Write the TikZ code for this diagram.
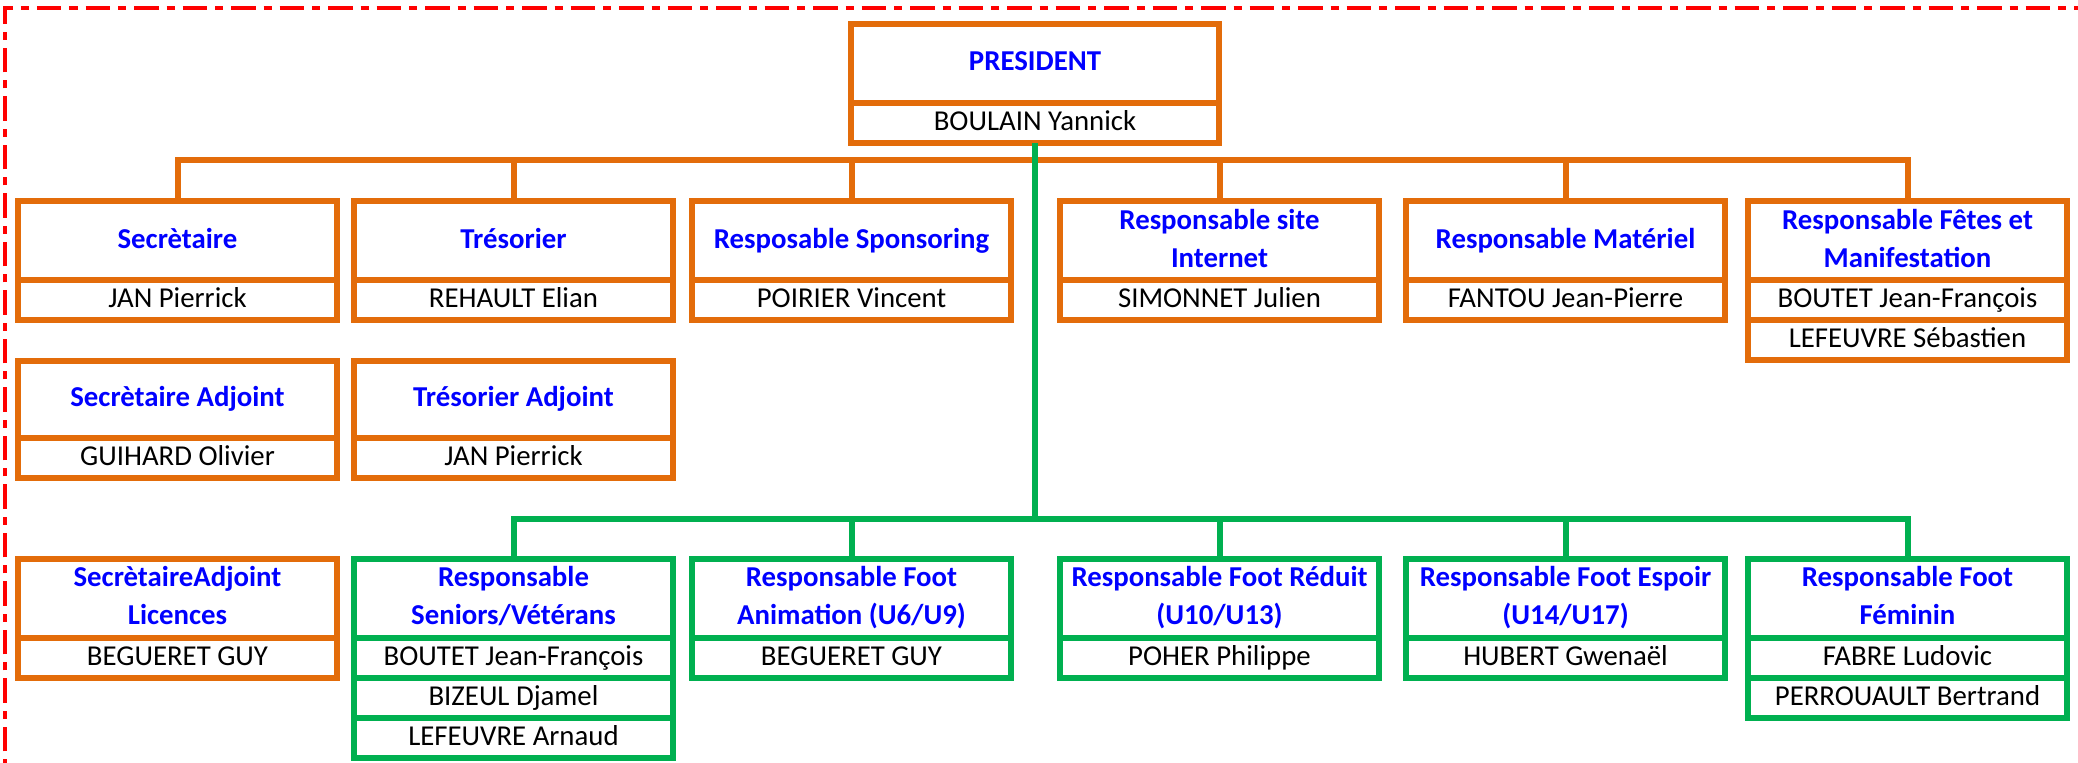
\documentclass[tikz,border=0pt]{standalone}
\usepackage{fontspec}
\setmainfont{Carlito}
\definecolor{orgOrange}{HTML}{E36C0A}
\definecolor{orgGreen}{HTML}{00B050}
\definecolor{titleBlue}{HTML}{0000FF}
\definecolor{borderRed}{HTML}{FF0000}
\newcommand\celltext[1]{\begin{tabular}{@{}c@{}}#1\end{tabular}}
\tikzset{
  cellbox/.style={draw, line width=3pt, minimum width=159.5pt, inner sep=0pt, outer sep=0pt, font=\fontsize{14.4}{19}\selectfont},
  ocell/.style={cellbox, draw=orgOrange},
  gcell/.style={cellbox, draw=orgGreen},
  titlecell/.style={minimum height=39.5pt, text=titleBlue, font=\fontsize{14.4}{19}\selectfont\bfseries},
  namecell/.style={minimum height=20pt, text=black},
  oline/.style={draw=orgOrange, line width=3pt},
  gline/.style={draw=orgGreen, line width=3pt},
}
\begin{document}
\begin{tikzpicture}[x=0.5pt,y=-0.5pt]
\useasboundingbox (0,0) rectangle (2078,763);
\begin{scope}
\clip (0,0) rectangle (2078,763);
\draw[borderRed, line width=2pt, dash pattern=on 12.25pt off 4pt on 4pt off 4pt] (4.5,800) -- (4.5,8) -- (2100,8);
\end{scope}

% President
\node[ocell, titlecell, minimum width=184pt, minimum height=39.35pt] (presT) at (1035,63.35) {\celltext{PRESIDENT}};
\node[ocell, namecell, minimum width=184pt, minimum height=20.15pt] (presN) at (1035,122.85) {\celltext{BOULAIN Yannick}};

% Row 1
\node[ocell, titlecell] (secT) at (177.5,240.5) {\celltext{Secrètaire}};
\node[ocell, namecell] (secN) at (177.5,300) {\celltext{JAN Pierrick}};
\node[ocell, titlecell] (tresT) at (513.5,240.5) {\celltext{Trésorier}};
\node[ocell, namecell] (tresN) at (513.5,300) {\celltext{REHAULT Elian}};
\node[ocell, titlecell] (spoT) at (851.5,240.5) {\celltext{Resposable Sponsoring}};
\node[ocell, namecell] (spoN) at (851.5,300) {\celltext{POIRIER Vincent}};
\node[ocell, titlecell] (webT) at (1219.5,240.5) {\celltext{Responsable site\\Internet}};
\node[ocell, namecell] (webN) at (1219.5,300) {\celltext{SIMONNET Julien}};
\node[ocell, titlecell] (matT) at (1565.5,240.5) {\celltext{Responsable Matériel}};
\node[ocell, namecell] (matN) at (1565.5,300) {\celltext{FANTOU Jean-Pierre}};
\node[ocell, titlecell] (fetT) at (1907.5,240.5) {\celltext{Responsable Fêtes et\\Manifestation}};
\node[ocell, namecell] (fetN) at (1907.5,300) {\celltext{BOUTET Jean-François}};
\node[ocell, namecell] (fetNb) at (1907.5,340) {\celltext{LEFEUVRE Sébastien}};

% Row 2
\node[ocell, titlecell, minimum height=38.35pt] (secaT) at (177.5,399.35) {\celltext{Secrètaire Adjoint}};
\node[ocell, namecell] (secaN) at (177.5,457.7) {\celltext{GUIHARD Olivier}};
\node[ocell, titlecell, minimum height=38.35pt] (tresaT) at (513.5,399.35) {\celltext{Trésorier Adjoint}};
\node[ocell, namecell] (tresaN) at (513.5,457.7) {\celltext{JAN Pierrick}};

% Row 3
\node[ocell, titlecell, minimum height=39.35pt] (licT) at (177.5,598.35) {\celltext{SecrètaireAdjoint\\Licences}};
\node[ocell, namecell] (licN) at (177.5,657.7) {\celltext{BEGUERET GUY}};
\node[gcell, titlecell, minimum height=39.35pt] (senT) at (513.5,598.35) {\celltext{Responsable\\Seniors/Vétérans}};
\node[gcell, namecell] (senN) at (513.5,657.7) {\celltext{BOUTET Jean-François}};
\node[gcell, namecell, minimum height=20.15pt] (senNb) at (513.5,697.85) {\celltext{BIZEUL Djamel}};
\node[gcell, namecell, minimum height=20.15pt] (senNc) at (513.5,738.15) {\celltext{LEFEUVRE Arnaud}};
\node[gcell, titlecell, minimum height=39.35pt] (aniT) at (851.5,598.35) {\celltext{Responsable Foot\\Animation (U6/U9)}};
\node[gcell, namecell] (aniN) at (851.5,657.7) {\celltext{BEGUERET GUY}};
\node[gcell, titlecell, minimum height=39.35pt] (redT) at (1219.5,598.35) {\celltext{Responsable Foot Réduit\\(U10/U13)}};
\node[gcell, namecell] (redN) at (1219.5,657.7) {\celltext{POHER Philippe}};
\node[gcell, titlecell, minimum height=39.35pt] (espT) at (1565.5,598.35) {\celltext{Responsable Foot Espoir\\(U14/U17)}};
\node[gcell, namecell] (espN) at (1565.5,657.7) {\celltext{HUBERT Gwenaël}};
\node[gcell, titlecell, minimum height=39.35pt] (femT) at (1907.5,598.35) {\celltext{Responsable Foot\\Féminin}};
\node[gcell, namecell] (femN) at (1907.5,657.7) {\celltext{FABRE Ludovic}};
\node[gcell, namecell, minimum height=20.15pt] (femNb) at (1907.5,697.85) {\celltext{PERROUAULT Bertrand}};

% Orange connectors
\coordinate (obus) at (1035,160);
\draw[oline] (secT.north) |- (obus) -| (fetT.north);
\foreach \n in {tresT,spoT,webT,matT} \draw[oline] (\n.north) -- (\n.north |- obus);

% Green connectors
\coordinate (gbus) at (1035,519);
\draw[gline] (presN.south) -- (gbus);
\draw[gline] (senT.north) |- (gbus) -| (femT.north);
\foreach \n in {aniT,redT,espT} \draw[gline] (\n.north) -- (\n.north |- gbus);
\end{tikzpicture}
\end{document}
